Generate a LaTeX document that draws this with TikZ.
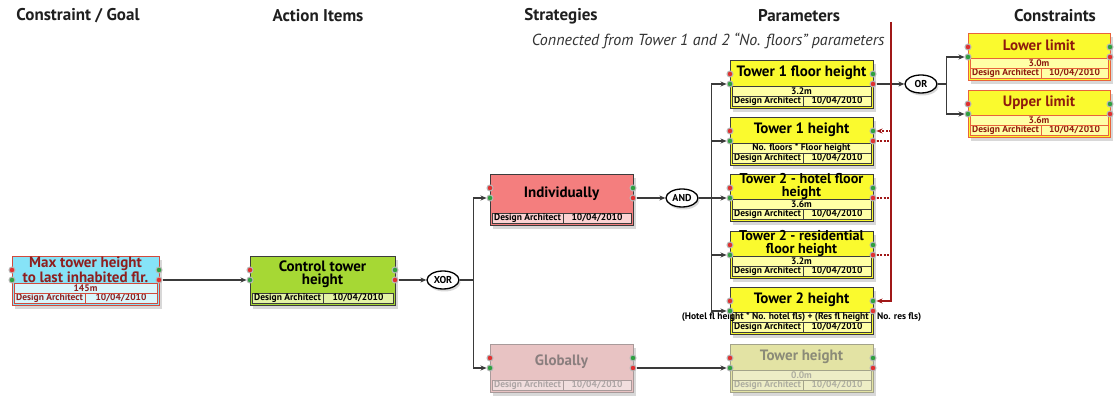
\documentclass[tikz,border=0pt]{standalone}
\usepackage{fontspec}
\setmainfont{PT Sans}
\usetikzlibrary{shadows,arrows.meta,calc,shapes.geometric}

\definecolor{cBorder}{HTML}{3C3C3C}
\definecolor{cConn}{HTML}{3A3A3A}
\definecolor{cPortRing}{HTML}{B8B8B8}
\definecolor{cPortRed}{HTML}{E03030}
\definecolor{cPortGreen}{HTML}{2EA040}
\definecolor{cGoalFill}{HTML}{86E3F7}
\definecolor{cGoalRow}{HTML}{D8F6FC}
\definecolor{cGoalBorder}{HTML}{D24A3C}
\definecolor{cGoalText}{HTML}{8E1F1F}
\definecolor{cActFill}{HTML}{A6D834}
\definecolor{cActRow}{HTML}{E4F3A6}
\definecolor{cIndFill}{HTML}{F47E7E}
\definecolor{cIndRow}{HTML}{FBD3D3}
\definecolor{cGlobFill}{HTML}{E8C3C3}
\definecolor{cGlobRow}{HTML}{F1DEDE}
\definecolor{cGlobBorder}{HTML}{A89A9A}
\definecolor{cGlobText}{HTML}{8A7E7E}
\definecolor{cParFill}{HTML}{FAFA2E}
\definecolor{cParRow}{HTML}{FFFFA6}
\definecolor{cThFill}{HTML}{E3E3A4}
\definecolor{cThRow}{HTML}{EDEDC6}
\definecolor{cThBorder}{HTML}{A3A38A}
\definecolor{cThText}{HTML}{8B8B78}
\definecolor{cConBorder}{HTML}{E8643C}
\definecolor{cConText}{HTML}{8E1A0E}
\definecolor{cRedLine}{HTML}{A01818}

\tikzset{
  port/.style={circle,inner sep=0pt,minimum size=6pt,draw=cPortRing,line width=1pt},
  pr/.style={port,fill=cPortRed},
  pg/.style={port,fill=cPortGreen},
  connline/.style={draw=cConn,line width=1.3pt},
  conn/.style={connline,-{Stealth[length=6pt,width=5pt]}},
  redline/.style={draw=cRedLine,line width=1.2pt,-{Stealth[length=6pt,width=5pt]}},
  reddot/.style={draw=cRedLine,line width=1.2pt,dash pattern=on 2pt off 1.5pt},
  reddotarrow/.style={reddot,-{Stealth[length=6pt,width=5pt]}},
  gate/.style={ellipse,draw=black,line width=1.3pt,fill=white,
    font=\bfseries\fontsize{10}{10}\selectfont,minimum width=32pt,minimum height=18pt,inner sep=0pt,
    drop shadow={shadow xshift=1.5pt,shadow yshift=-2.5pt,opacity=.3}},
  header/.style={font=\bfseries\fontsize{17}{17}\selectfont,text=black!88},
  basebox/.style={draw=cBorder,line width=1.3pt,inner sep=0pt,
    drop shadow={shadow xshift=2.5pt,shadow yshift=-3.5pt,opacity=.3}},
  baserow/.style={draw=cBorder,line width=0.6pt},
  basetitle/.style={font=\bfseries\fontsize{15}{13}\selectfont,align=center,inner sep=0pt},
  basesmall/.style={font=\bfseries\fontsize{9.5}{9.5}\selectfont,inner sep=0pt},
  goalbox/.style={basebox,fill=cGoalFill,draw=cGoalBorder},
  goalrow/.style={baserow,fill=cGoalRow,draw=cGoalBorder},
  goaltitle/.style={basetitle,text=cGoalText},
  goalsmall/.style={basesmall,text=cGoalText},
  actbox/.style={basebox,fill=cActFill},
  actrow/.style={baserow,fill=cActRow},
  acttitle/.style={basetitle},
  actsmall/.style={basesmall},
  indbox/.style={basebox,fill=cIndFill},
  indrow/.style={baserow,fill=cIndRow},
  indtitle/.style={basetitle},
  indsmall/.style={basesmall},
  globbox/.style={basebox,fill=cGlobFill,draw=cGlobBorder},
  globrow/.style={baserow,fill=cGlobRow,draw=cGlobBorder},
  globtitle/.style={basetitle,text=cGlobText},
  globsmall/.style={basesmall,text=cGlobText!70},
  parbox/.style={basebox,fill=cParFill},
  parrow/.style={baserow,fill=cParRow},
  partitle/.style={basetitle},
  parsmall/.style={basesmall},
  thbox/.style={basebox,fill=cThFill,draw=cThBorder},
  throw/.style={baserow,fill=cThRow,draw=cThBorder},
  thtitle/.style={basetitle,text=cThText},
  thsmall/.style={basesmall,text=cThText!70},
  conbox/.style={basebox,fill=cParFill,draw=cConBorder},
  conrow/.style={baserow,fill=cParRow,draw=cConBorder},
  contitle/.style={basetitle,text=cConText},
  consmall/.style={basesmall,text=cConText},
}

% #1 name, #2 x, #3 y, #4 w, #5 h, #6 style prefix, #7 title, #8 value, #9 extra title options
\newcommand{\cbox}[9]{%
  \pgfmathsetmacro\bxR{#2+#4}%
  \pgfmathsetmacro\bxB{#3+#5}%
  \pgfmathsetmacro\bxL{#2+2}%
  \pgfmathsetmacro\bxRr{#2+#4-2}%
  \pgfmathsetmacro\bxC{#2+#4/2}%
  \node[#6box,minimum width=#4pt,minimum height=#5pt,anchor=north west] (#1) at (#2,#3) {};
  \draw[#6row] (\bxL,\bxB-2) rectangle (\bxRr,\bxB-12);
  \draw[#6row] (\bxL+71,\bxB-2) -- (\bxL+71,\bxB-12);
  \node[#6small] (#1-who) at (\bxL+35.5,\bxB-7) {Design Architect};
  \node[#6small] (#1-date) at ({(\bxL+71+\bxRr)/2},\bxB-7) {10/04/2010};
  \if\relax\detokenize{#8}\relax
    \node[#6title,#9] (#1-t) at (\bxC,{(#3+\bxB-12)/2}) {#7};
  \else
    \draw[#6row] (\bxL,\bxB-12) rectangle (\bxRr,\bxB-22);
    \node[#6small] (#1-v) at (\bxC,\bxB-17) {#8};
    \node[#6title,#9] (#1-t) at (\bxC,{(#3+\bxB-22)/2}) {#7};
  \fi
  \node[pr] (#1-li1) at (#2,#3+14) {};
  \node[pg] (#1-li2) at (#2,#3+24) {};
  \node[pg] (#1-ro1) at (\bxR,#3+14) {};
  \node[pr] (#1-ro2) at (\bxR,#3+24) {};
}

\begin{document}
\begin{tikzpicture}[x=1pt,y=-1pt]
\useasboundingbox (0,0) rectangle (1117,398);
\fill[white] (0,0) rectangle (1117,398);

% headers
\node[header] (h1) at (78,16) {Constraint / Goal};
\node[header] (h2) at (318,16) {Action Items};
\node[header] (h3) at (561,16) {Strategies};
\node[header] (h4) at (799,16) {Parameters};
\node[header] (h5) at (1055,16) {Constraints};
\node[font=\itshape\fontsize{16}{16}\selectfont,text=black!80,anchor=east] (note) at (888,41)
  {Connected from Tower 1 and 2 “No. floors” parameters};

% red vertical line start
\coordinate (rtop) at (891,22);

% boxes
\cbox{goal}{12}{256}{147}{49}{goal}{Max tower height\\to last inhabited flr.}{145m}{font=\bfseries\fontsize{15}{12.5}\selectfont}
\cbox{act}{250}{256}{145}{49}{act}{Control tower\\height}{}{font=\bfseries\fontsize{15}{13}\selectfont}
\cbox{ind}{490}{174}{143}{51}{ind}{Individually}{}{}
\cbox{glob}{490}{344}{143}{48}{glob}{Globally}{}{}
\cbox{t1f}{730}{60}{143}{48}{par}{Tower 1 floor height}{3.2m}{}
\cbox{t1h}{730}{117}{143}{48}{par}{Tower 1 height}{No. floors * Floor height}{}
\cbox{t2f}{730}{174}{143}{47}{par}{Tower 2 - hotel floor\\height}{3.6m}{font=\bfseries\fontsize{14.2}{13}\selectfont}
\cbox{t2r}{730}{231}{143}{47}{par}{Tower 2 - residential\\floor height}{3.2m}{font=\bfseries\fontsize{14.2}{13}\selectfont}
\cbox{t2h}{730}{287}{143}{47}{par}{Tower 2 height}{(Hotel fl height * No. hotel fls) + (Res fl height * No. res fls)}{}
\cbox{th}{730}{344}{143}{48}{th}{Tower height}{0.0m}{}
\cbox{lo}{968}{33}{142}{47}{con}{Lower limit}{3.0m}{}
\cbox{up}{968}{90}{142}{47}{con}{Upper limit}{3.6m}{}

% gates
\node[gate] (xor) at (443,280) {XOR};
\node[gate] (and) at (682,198) {AND};
\node[gate] (or) at (921,84) {OR};

% connectors
\draw[conn] (goal-ro2) -- (act-li2);
\draw[conn] (act-ro2) -- (xor);
\coordinate (xj) at ($(xor.east)+(14,0)$);
\draw[connline] (xor.east) -- (xj);
\draw[conn] (xj) |- (ind-li2);
\draw[conn] (xj) |- (glob-li2);
\draw[conn] (ind-ro2) -- (and);
\coordinate (aj) at ($(and.east)+(13,0)$);
\draw[connline] (and.east) -- (aj);
\foreach \p in {t1f,t1h,t2f,t2r,t2h} \draw[conn] (aj) |- (\p-li2);
\draw[conn] (glob-ro2) -- (th-li2);
\draw[conn] (t1f-ro2) -- (or);
\coordinate (oj) at ($(or.east)+(9,0)$);
\draw[connline] (or.east) -- (oj);
\draw[conn] (oj) |- (lo-li2);
\draw[conn] (oj) |- (up-li2);

% red links
\draw[redline] (rtop) |- (t2h-ro1);
\draw[reddotarrow] (rtop |- t1h-ro1) -- (t1h-ro1);
\draw[reddot] (t1h-ro2) -- (t1h-ro2 -| rtop);
\draw[reddot] (t2f-ro2) -- (t2f-ro2 -| rtop);
\draw[reddot] (t2r-ro2) -- (t2r-ro2 -| rtop);
\end{tikzpicture}
\end{document}
